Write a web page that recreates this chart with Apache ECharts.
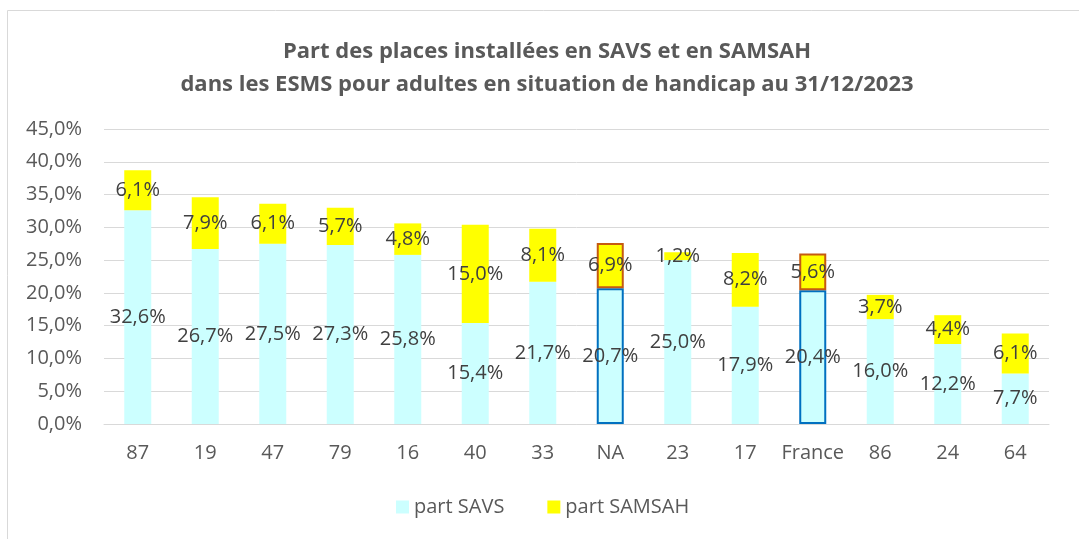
<!DOCTYPE html>
<html>
<head>
<meta charset="UTF-8">
<title>Part des places installées en SAVS et en SAMSAH</title>
<script type="text/javascript" src="https://cdn.jsdelivr.net/npm/echarts@6/dist/echarts.min.js"></script>
<style>
	html, body { margin: 0; padding: 0; background: #fff; }
	#main { width: 1079px; height: 539px; }
</style>
</head>
<body>
	<div id="main"></div>
	<script type="text/javascript">
		// données
		var categories = ['87', '19', '47', '79', '16', '40', '33', 'NA', '23', '17', 'France', '86', '24', '64'];
		var partSavs = [32.6, 26.7, 27.5, 27.3, 25.8, 15.4, 21.7, 20.7, 25.0, 17.9, 20.4, 16.0, 12.2, 7.7];
		var partSamsah = [6.1, 7.9, 6.1, 5.7, 4.8, 15.0, 8.1, 6.9, 1.2, 8.2, 5.6, 3.7, 4.4, 6.1];
		var highlighted = ['NA', 'France'];

		var font = 'Open Sans';
		function pct(v){
			return v.toFixed(1).replace('.', ',') + '%';
		}
		function withBorder(values, color){
			return values.map(function(v, i){
				if (highlighted.indexOf(categories[i]) >= 0) {
					return { value: v, itemStyle: { borderColor: color, borderWidth: 2 } };
				}
				return v;
			});
		}

		var myChart = echarts.init(document.getElementById('main'));
		var option = {
			animation: false,
			textStyle: { fontFamily: font },
			graphic: [{
				type: 'rect',
				shape: { x: 7.5, y: 10.5, width: 1100, height: 600 },
				style: { fill: 'none', stroke: '#d9d9d9', lineWidth: 1 },
				silent: true
			}],
			title: {
				text: 'Part des places installées en SAVS et en SAMSAH\ndans les ESMS pour adultes en situation de handicap au 31/12/2023',
				left: 542,
				textAlign: 'center',
				top: 30,
				textStyle: {
					fontFamily: font,
					fontSize: 22,
					fontWeight: 'bold',
					color: '#595959',
					lineHeight: 33
				}
			},
			legend: {
				bottom: 17,
				left: 391,
				itemWidth: 13,
				itemHeight: 13,
				itemGap: 43,
				icon: 'rect',
				textStyle: { fontFamily: font, fontSize: 20, color: '#595959' },
				data: ['part SAVS', 'part SAMSAH']
			},
			grid: {
				left: 104,
				right: 30,
				top: 129,
				bottom: 115
			},
			xAxis: {
				type: 'category',
				data: categories,
				axisTick: { show: false },
				axisLine: { lineStyle: { color: '#d9d9d9', width: 1 } },
				axisLabel: { fontFamily: font, fontSize: 20, color: '#595959', margin: 19, interval: 0 }
			},
			yAxis: {
				type: 'value',
				min: 0,
				max: 45,
				interval: 5,
				axisLine: { show: false },
				axisTick: { show: false },
				splitLine: { lineStyle: { color: '#d9d9d9', width: 1 } },
				axisLabel: {
					fontFamily: font, fontSize: 20, color: '#595959', margin: 22,
					formatter: function(v){ return pct(v); }
				}
			},
			series: [{
				name: 'part SAVS',
				type: 'bar',
				stack: 'total',
				barWidth: 27,
				itemStyle: { color: '#ccffff' },
				label: {
					show: true,
					position: 'inside',
					fontFamily: font,
					fontSize: 20,
					color: '#404040',
					formatter: function(p){ return pct(p.value); }
				},
				data: withBorder(partSavs, '#0070c0')
			}, {
				name: 'part SAMSAH',
				type: 'bar',
				stack: 'total',
				barWidth: 27,
				itemStyle: { color: '#ffff00' },
				label: {
					show: true,
					position: 'inside',
					fontFamily: font,
					fontSize: 20,
					color: '#404040',
					formatter: function(p){ return pct(p.value); }
				},
				data: withBorder(partSamsah, '#c55a11')
			}]
		};
		myChart.setOption(option);
	</script>
</body>
</html>
